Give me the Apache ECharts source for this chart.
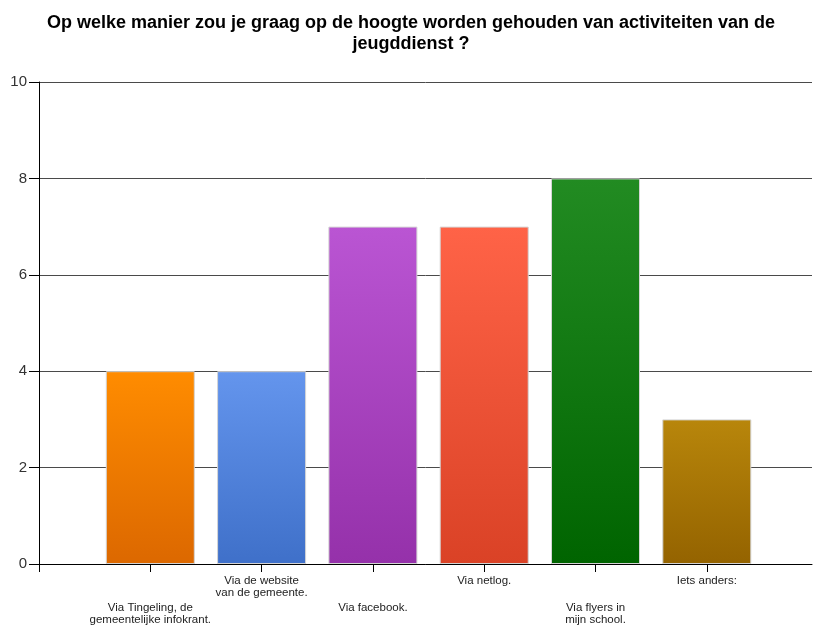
<!DOCTYPE html>
<html>
<head>
<meta charset="utf-8">
<script src="https://cdn.jsdelivr.net/npm/echarts@6/dist/echarts.min.js"></script>
<style>html,body{margin:0;padding:0;background:#fff}#c{width:813px;height:626px}</style>
</head>
<body>
<div id="c"></div>
<script>
var titleText = "Op welke manier zou je graag op de hoogte worden gehouden van activiteiten van de\njeugddienst ?";
var categories = ["Via Tingeling, de\ngemeentelijke infokrant.", "Via de website\nvan de gemeente.", "Via facebook.", "Via netlog.", "Via flyers in\nmijn school.", "Iets anders:"];
var values = [4, 4, 7, 7, 8, 3];
var yTicks = [0, 2, 4, 6, 8, 10];

var topColors = ["#FF8C00", "#6495ED", "#BA55D3", "#FF6347", "#228B22", "#B8860B"];
var bottomColors = ["#DC6800", "#3F70C9", "#9531AA", "#DA4226", "#006400", "#946300"];

var chart = echarts.init(document.getElementById('c'), null, {renderer: 'canvas'});
var FONT = "'Liberation Sans', Arial, sans-serif";

var seriesData = values.map(function (v, i) {
  return {
    value: [i + 1, v],
    itemStyle: {
      color: new echarts.graphic.LinearGradient(0, 0, 0, 1, [
        {offset: 0, color: topColors[i]},
        {offset: 1, color: bottomColors[i]}
      ]),
      borderColor: '#d4d4d4',
      borderWidth: 1
    }
  };
});

chart.setOption({
  animation: false,
  backgroundColor: '#fff',
  title: {
    text: titleText,
    left: 406,
    textAlign: 'center',
    top: 8,
    textStyle: {fontFamily: FONT, fontSize: 18, fontWeight: 'bold', color: '#000', lineHeight: 21}
  },
  grid: {left: 39, right: 1, top: 82, bottom: 62, containLabel: false},
  xAxis: {
    type: 'value',
    min: 0,
    max: 6.945,
    interval: 1,
    splitLine: {show: false},
    axisLine: {show: true, lineStyle: {color: '#000', width: 1}},
    axisTick: {show: true, length: 8, lineStyle: {color: '#000'}},
    axisLabel: {
      show: true,
      margin: 11,
      fontFamily: FONT,
      fontSize: 11.5,
      lineHeight: 12,
      color: '#222',
      showMaxLabel: false,
      formatter: function (v) {
        var idx = Math.round(v) - 1;
        if (idx < 0 || idx >= categories.length) return '';
        return (idx % 2 === 0 ? '{g| }\n' : '') + categories[idx];
      },
      rich: {
        g: {lineHeight: 27, fontSize: 11.5}
      }
    }
  },
  yAxis: {
    type: 'value',
    min: yTicks[0],
    max: yTicks[yTicks.length - 1],
    interval: 2,
    axisLine: {show: true, lineStyle: {color: '#000', width: 1}},
    axisTick: {show: true, length: 10, lineStyle: {color: '#000'}},
    splitLine: {show: true, lineStyle: {color: '#4a4a4a', width: 1}},
    axisLabel: {fontFamily: FONT, fontSize: 15, color: '#333', margin: 12}
  },
  series: [{
    type: 'bar',
    barWidth: 89,
    data: seriesData
  }]
});
</script>
</body>
</html>
